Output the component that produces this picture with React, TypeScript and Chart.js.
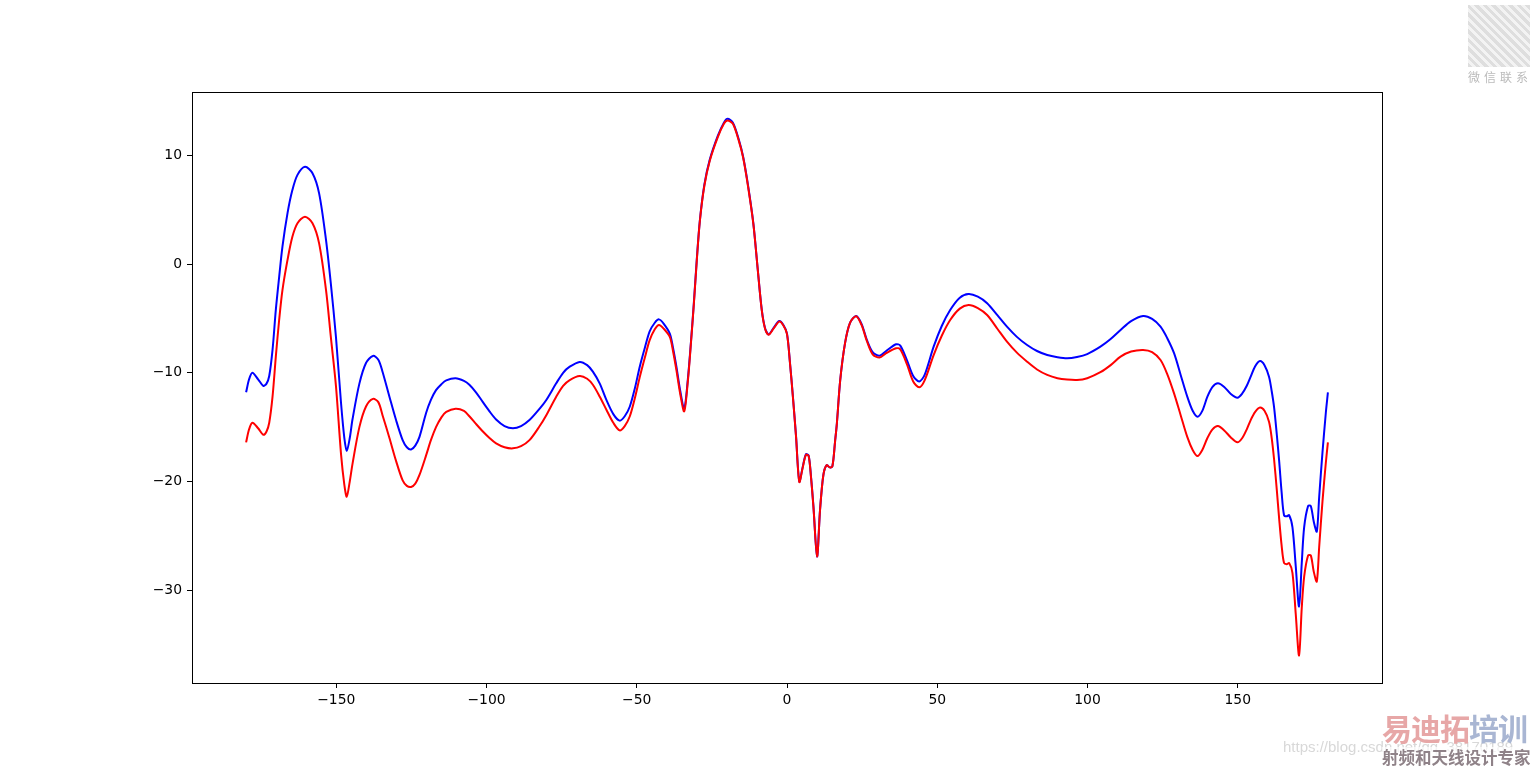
import React, { useEffect, useRef } from "react";
import { Chart, registerables } from "chart.js";

Chart.register(...registerables);

const angleValues: number[] = [
  -180, -179, -177.9, -176, -174.3, -173.2, -172.3, -171.2, -170.1, -169, -167.9, -166.2, -164.6, -162.9, -160.4,
  -157.9, -155.7, -153.4, -151.8, -150.1, -148.4, -147.3, -146.5, -145.5, -144.6, -142.3, -140.1, -137.8, -136,
  -134.6, -132.3, -130.1, -127.9, -126.5, -125.1, -123.7, -122.3, -120.1, -118.5, -116.8, -115, -113.4, -110.3, -107.5,
  -105.7, -103.5, -101.2, -99, -96.8, -94, -91.2, -88.5, -85.7, -82.3, -80.1, -76.8, -74.5, -72.3, -69, -66.5,
  -64.6, -62.3, -60.1, -57.8, -55.7, -54, -52.3, -50.6, -49, -47.3, -45.7, -44, -42.6, -41, -39, -38, -36.8, -35.5,
  -34.2, -33, -32, -31, -30, -29, -27.5, -25.7, -23, -21, -19.8, -18, -16, -14.6, -13, -11.2, -9.8, -8.4, -7.3,
  -6.1, -4.5, -2.6, -1.2, 0, 1, 2, 3, 4.1, 5.2, 6.3, 7.2, 8, 8.8, 10, 11, 12.1, 13.2, 14.2, 15.1, 16, 16.6, 17.7,
  19.3, 21, 23, 24.8, 26.6, 28.5, 30.8, 33, 36.3, 37.7, 39.9, 42, 44, 45.8, 48.8, 51.5, 54.3, 57.5, 60.4, 63.5,
  66.6, 70, 73.2, 76.5, 79.9, 83.2, 86.6, 90, 93.2, 96.5, 99.9, 104.3, 107.7, 111, 114.5, 118.5, 121.5, 124.3,
  126.5, 128.8, 131, 133.2, 135, 136.6, 138.2, 139.9, 141.6, 143.4, 145.5, 147.7, 149.9, 151.5, 153, 154.3, 155.8,
  157.4, 158.9, 160.4, 161.3, 162.1, 163, 163.8, 164.6, 165.4, 166.3, 167.1, 168.2, 169.3, 170.4, 171.3, 172.1,
  173.4, 174.3, 175.3, 176.3, 177.1, 178.2, 179.3, 180,
];

const blueValues: number[] = [
  -11.8, -10.6, -10.0, -10.6, -11.2, -11.0, -10.3, -7.9, -4.2, -1.2, 1.6, 4.7, 6.8, 8.2, 8.95,
  8.35, 6.5, 2.2, -1.8, -6.7, -12.8, -16.0, -17.2, -16.0, -14.3, -11.0, -9.1, -8.45, -8.8,
  -9.9, -12.2, -14.35, -16.2, -16.85, -17.05, -16.7, -15.9, -13.7, -12.5, -11.6, -11.05, -10.7, -10.5, -10.75,
  -11.1, -11.8, -12.7, -13.55, -14.3, -14.9, -15.1, -14.9, -14.35, -13.3, -12.5, -10.97, -10.0, -9.44, -9.0, -9.3,
  -9.9, -11.0, -12.5, -13.8, -14.4, -14.0, -13.1, -11.4, -9.44, -7.7, -6.2, -5.4, -5.09, -5.5, -6.4, -7.6, -9.44, -11.7,
  -13.3, -10.6, -7.3, -3.6, 0.5, 4.0, 7.3, 9.6, 11.8, 13.0, 13.35, 13.0, 11.4, 9.87, 7.3, 3.74, -0.3, -4.2, -5.9,
  -6.47, -5.9, -5.24, -5.6, -6.4, -9.1, -12.3, -15.8, -20.0, -18.7, -17.5, -17.6, -19.6, -22.3, -26.9, -22.6, -19.4, -18.5, -18.7, -18.6, -16.3, -14.65, -10.7,
  -7.3, -5.4, -4.78, -5.5, -7.0, -8.1, -8.43, -8.0, -7.38, -7.5, -8.83, -10.3, -10.8, -10.2, -7.6, -5.7, -4.23, -3.1, -2.76, -3.0,
  -3.6, -4.7, -5.76, -6.7, -7.45, -8.0, -8.37, -8.57, -8.67, -8.55, -8.28, -7.6, -6.9, -6.07, -5.25, -4.78, -5.05, -5.76,
  -6.8, -8.2, -10.2, -12.2, -13.5, -14.04, -13.5, -12.2, -11.3, -10.97, -11.3, -11.95, -12.29, -11.9, -11.2, -10.36, -9.4,
  -8.92, -9.3, -10.36, -11.7, -13.2, -15.7, -18.2, -21.0, -23.1, -23.2, -23.1, -24.2, -27.8, -31.5, -27.5, -24.2,
  -22.25, -22.25, -23.7, -24.6, -21.4, -17.3, -13.7, -11.8,
];

const redValues: number[] = [
  -16.4, -15.2, -14.6, -15.1, -15.7, -15.4, -14.6, -12.2, -8.5, -5.15, -2.4, 0.4, 2.5, 3.75, 4.35,
  3.75, 1.9, -2.4, -6.7, -11.2, -17.5, -20.3, -21.4, -20.0, -18.4, -15.0, -13.1, -12.4, -12.7,
  -13.9, -16.0, -18.1, -19.9, -20.4, -20.5, -20.2, -19.4, -17.6, -16.2, -15.0, -14.1, -13.6, -13.3, -13.5,
  -14.0, -14.7, -15.4, -16.0, -16.5, -16.85, -16.95, -16.75, -16.2, -14.9, -13.9, -12.2, -11.2, -10.67, -10.3, -10.55,
  -11.1, -12.2, -13.4, -14.6, -15.3, -14.9, -14.0, -12.3, -10.4, -8.6, -7.0, -6.0, -5.6, -5.95, -6.7, -7.9, -9.75, -12.0,
  -13.55, -10.8, -7.4, -3.7, 0.4, 3.95, 7.2, 9.5, 11.7, 12.9, 13.2, 12.9, 11.3, 9.8, 7.2, 3.7, -0.3, -4.25, -5.95,
  -6.5, -5.95, -5.3, -5.65, -6.45, -9.15, -12.35, -15.85, -20.05, -18.75, -17.55, -17.65, -19.65, -22.35, -26.9, -22.6, -19.4, -18.5, -18.7, -18.6, -16.3, -14.65, -10.7,
  -7.3, -5.4, -4.8, -5.6, -7.1, -8.3, -8.6, -8.2, -7.75, -7.85, -9.2, -10.8, -11.34, -10.7, -8.37, -6.6, -5.15, -4.1, -3.77, -4.05,
  -4.69, -5.95, -7.14, -8.15, -8.98, -9.7, -10.2, -10.5, -10.63, -10.67, -10.5, -9.95, -9.3, -8.52, -8.05, -7.9, -8.1, -8.83,
  -10.1, -11.9, -13.9, -15.9, -17.1, -17.66, -17.1, -16.0, -15.2, -14.9, -15.3, -15.95, -16.4, -16.0, -15.2, -14.35, -13.6,
  -13.2, -13.5, -14.5, -16.0, -18.0, -20.8, -23.5, -25.9, -27.5, -27.6, -27.5, -28.4, -32.2, -36.0, -31.6, -28.75,
  -26.8, -26.8, -28.3, -29.2, -26.0, -21.8, -18.3, -16.4,
];

const xTickValues: number[] = [-150, -100, -50, 0, 50, 100, 150];
const yTickValues: number[] = [-30, -20, -10, 0, 10];
const xRange: number[] = [-198, 198];
const yRange: number[] = [-38.53, 15.82];

const fmt = (v: number) => (v < 0 ? "\u2212" + Math.abs(v) : String(v));

const framePlugin = {
  id: "frame",
  afterDraw(chart: any) {
    const { ctx, chartArea } = chart;
    ctx.save();
    ctx.strokeStyle = "#000000";
    ctx.lineWidth = 1;
    ctx.strokeRect(
      Math.round(chartArea.left) + 0.5,
      Math.round(chartArea.top) + 0.5,
      Math.round(chartArea.right - chartArea.left),
      Math.round(chartArea.bottom - chartArea.top)
    );
    ctx.restore();
  },
};

function LineChart() {
  const ref = useRef<HTMLCanvasElement | null>(null);
  useEffect(() => {
    if (!ref.current) return;
    const toPts = (ys: number[]) => angleValues.map((x, i) => ({ x, y: ys[i] }));
    const chart = new Chart(ref.current, {
      type: "line",
      data: {
        datasets: [
          {
            label: "blue",
            data: toPts(blueValues),
            borderColor: "#0000ff",
            borderWidth: 2,
            pointRadius: 0,
            tension: 0.3,
            fill: false,
            order: 2,
          },
          {
            label: "red",
            data: toPts(redValues),
            borderColor: "#ff0000",
            borderWidth: 2,
            pointRadius: 0,
            tension: 0.3,
            fill: false,
            order: 1,
          },
        ],
      },
      options: {
        animation: false,
        responsive: false,
        maintainAspectRatio: false,
        layout: { padding: { left: 0, top: 92, right: 154, bottom: 0 } },
        plugins: { legend: { display: false }, tooltip: { enabled: false } },
        scales: {
          x: {
            type: "linear",
            min: xRange[0],
            max: xRange[1],
            afterBuildTicks: (scale: any) => {
              scale.ticks = xTickValues.map((v) => ({ value: v }));
            },
            afterFit: (scale: any) => {
              scale.height = 84;
            },
            grid: { drawOnChartArea: false, drawTicks: true, tickLength: 5, color: "#000000", lineWidth: 1 },
            border: { display: false },
            ticks: {
              color: "#000000",
              padding: 4,
              maxRotation: 0,
              autoSkip: false,
              font: { family: "DejaVu Sans", size: 13.9 },
              callback: (v: any) => fmt(Number(v)),
            },
          },
          y: {
            type: "linear",
            min: yRange[0],
            max: yRange[1],
            afterBuildTicks: (scale: any) => {
              scale.ticks = yTickValues.map((v) => ({ value: v }));
            },
            afterFit: (scale: any) => {
              scale.width = 192;
            },
            grid: { drawOnChartArea: false, drawTicks: true, tickLength: 5, color: "#000000", lineWidth: 1 },
            border: { display: false },
            ticks: {
              color: "#000000",
              padding: 5,
              autoSkip: false,
              font: { family: "DejaVu Sans", size: 13.9 },
              callback: (v: any) => fmt(Number(v)),
            },
          },
        },
      },
      plugins: [framePlugin],
    } as any);
    return () => chart.destroy();
  }, []);
  return <canvas ref={ref} width={1536} height={767} style={{ display: "block", width: 1536, height: 767 }} />;
}

export default function App() {
  return (
    <div style={{ position: "absolute", left: 0, top: 0, width: 1536, height: 767, background: "#ffffff", overflow: "hidden" }}>
      <LineChart />
      <div
        style={{
          position: "absolute",
          left: 1468,
          top: 5,
          width: 62,
          height: 62,
          background: "repeating-linear-gradient(45deg, #d6d6d6 0 3px, #f0f0f0 3px 6px)",
          opacity: 0.8,
        }}
      />
      <div
        style={{
          position: "absolute",
          left: 1466,
          top: 68,
          width: 68,
          fontFamily: "'Noto Sans CJK SC'",
          fontSize: 12,
          color: "#bbbbbb",
          letterSpacing: 4,
          textAlign: "center",
        }}
      >
        微信联系
      </div>
      <div
        style={{
          position: "absolute",
          left: 1283,
          top: 738,
          fontFamily: "'Liberation Sans', Arial, sans-serif",
          fontSize: 15,
          color: "#d8d8d8",
        }}
      >
        https://blog.csdn.net/qq_38170189
      </div>
      <div
        style={{
          position: "absolute",
          left: 1382,
          top: 708,
          fontFamily: "'Noto Sans CJK SC'",
          fontSize: 30,
          fontWeight: 700,
          lineHeight: "38px",
          letterSpacing: -1,
        }}
      >
        <span style={{ color: "#e7a7a7" }}>易迪拓</span>
        <span style={{ color: "#a9b6d3" }}>培训</span>
      </div>
      <div
        style={{
          position: "absolute",
          left: 1382,
          top: 747,
          fontFamily: "'Noto Sans CJK SC'",
          fontSize: 16.5,
          fontWeight: 700,
          lineHeight: "20px",
          color: "#8f8288",
          background: "rgba(255,255,255,0.7)",
        }}
      >
        射频和天线设计专家
      </div>
    </div>
  );
}
